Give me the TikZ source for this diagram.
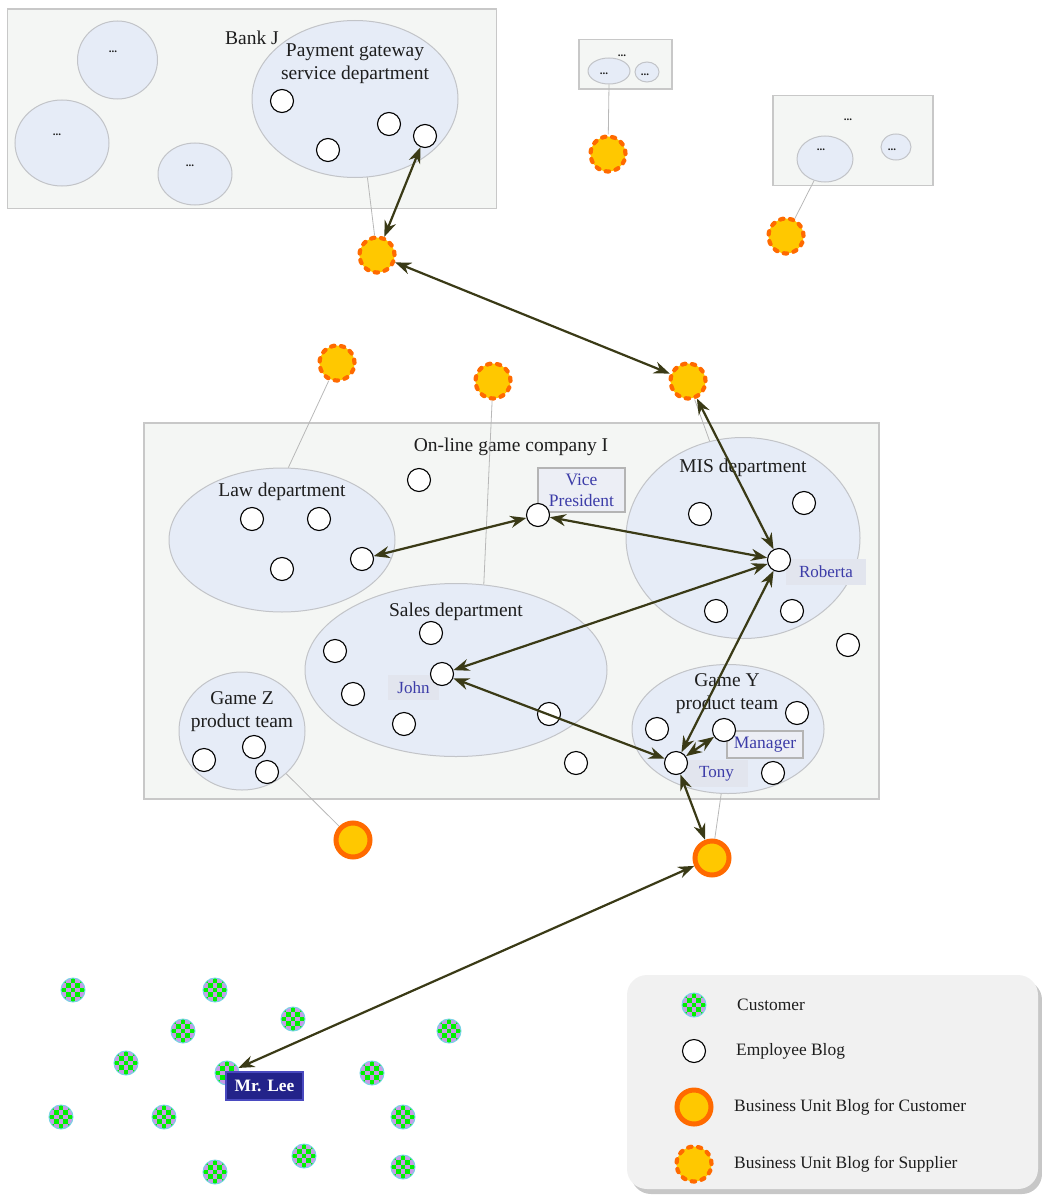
\documentclass[tikz,border=0pt]{standalone}
\usepackage{fontspec}
\setmainfont{Liberation Serif}
\usetikzlibrary{arrows.meta,shapes.geometric,calc}

\definecolor{boxfill}{HTML}{F4F6F4}
\definecolor{boxline}{HTML}{C8C8C8}
\definecolor{deptfill}{HTML}{E6ECF7}
\definecolor{deptline}{HTML}{C2C4C8}
\definecolor{linkgray}{HTML}{B8B8B8}
\definecolor{arrowcol}{HTML}{3A3A16}
\definecolor{bugold}{HTML}{FFC800}
\definecolor{buorange}{HTML}{FF6A00}
\definecolor{namecol}{HTML}{3C3CA8}
\definecolor{tagfill}{HTML}{ECEEF5}
\definecolor{tagline}{HTML}{B4B4B4}
\definecolor{nametagfill}{HTML}{E2E5EE}
\definecolor{chkgreen}{HTML}{00F000}
\definecolor{chklilac}{HTML}{C89BE6}
\definecolor{chkring}{HTML}{78D4E4}
\definecolor{leefill}{HTML}{23238A}
\definecolor{leeline}{HTML}{4A4AC0}
\definecolor{legfill}{HTML}{F1F1F1}
\definecolor{inktext}{HTML}{1E1E1E}

\tikzset{
  org/.style={draw=boxline, line width=1.5pt, fill=boxfill, inner sep=0pt},
  dept/.style={ellipse, draw=deptline, line width=1pt, fill=deptfill, inner sep=0pt},
  emp/.style={circle, draw=black, line width=1.1pt, fill=white, minimum size=23pt, inner sep=0pt},
  custblog/.style={circle, draw=buorange, line width=5pt, fill=bugold, minimum size=34pt, inner sep=0pt},
  supblog/.style={circle, draw=buorange, line width=4.2pt, fill=bugold, minimum size=35pt, inner sep=0pt,
                  dash pattern=on 3.4pt off 6.6pt, line cap=round},
  customer/.style={circle, draw=chkring, line width=1pt, minimum size=24pt, inner sep=0pt, fill=chklilac,
    path picture={
      \foreach \i in {0,...,4}{\foreach \j in {0,...,4}{
        \pgfmathtruncatemacro\chk{mod(\i+\j,2)}
        \ifnum\chk=0
          \fill[chkgreen] ($(path picture bounding box.north west)+(\i*4.8,\j*4.8)$) rectangle ++(4.8,4.8);
        \fi}}
    }},
  title/.style={text=inktext, font=\fontsize{19.5}{23}\selectfont, align=center, inner sep=0pt},
  dots/.style={text=inktext, font=\fontsize{11}{12}\selectfont\bfseries, inner sep=0pt},
  roletag/.style={draw=tagline, line width=1.5pt, fill=tagfill, text=namecol, align=center,
                  font=\fontsize{17.5}{21}\selectfont, inner sep=0pt},
  nametag/.style={fill=nametagfill, text=namecol, font=\fontsize{17}{20}\selectfont, inner sep=0pt},
  thinlink/.style={draw=linkgray, line width=0.8pt},
  talk/.style={draw=arrowcol, line width=2.2pt,
               {Stealth[length=16pt,width=12pt]}-{Stealth[length=16pt,width=12pt]}},
  legtext/.style={text=inktext, font=\fontsize{17.4}{20}\selectfont, anchor=west, inner sep=0pt},
}

\begin{document}
\begin{tikzpicture}[x=1pt,y=-1pt]
\useasboundingbox (0,0) rectangle (1041,1196);

% ---------- organisations ----------
\node[org, minimum width=489pt, minimum height=199.5pt] (bankJ) at (252,108.75) {};
\node[org, minimum width=93pt, minimum height=49.5pt] (orgB) at (625.5,64.25) {};
\node[org, minimum width=160pt, minimum height=90pt] (orgC) at (853,140.5) {};
\node[org, minimum width=735pt, minimum height=376pt] (gameI) at (511.5,611) {};

% ---------- departments ----------
\node[dept, minimum width=80pt, minimum height=78pt] (bankA) at (117.5,60) {};
\node[dept, minimum width=94pt, minimum height=86pt] (bankB) at (62,143) {};
\node[dept, minimum width=74pt, minimum height=62pt] (bankC) at (195,174) {};
\node[dept, minimum width=206pt, minimum height=157pt] (payE) at (355,99) {};
\node[dept, minimum width=42pt, minimum height=26pt] (orgBa) at (609,71) {};
\node[dept, minimum width=24pt, minimum height=20pt] (orgBb) at (647,72) {};
\node[dept, minimum width=56pt, minimum height=46pt] (orgCa) at (825,159) {};
\node[dept, minimum width=30pt, minimum height=26pt] (orgCb) at (896,147) {};

\node[dept, minimum width=226pt, minimum height=144pt] (lawE) at (282,540) {};
\node[dept, minimum width=234pt, minimum height=201pt] (misE) at (743,538) {};
\node[dept, minimum width=302pt, minimum height=173pt] (salesE) at (456,670) {};
\node[dept, minimum width=126pt, minimum height=118pt] (gzE) at (242,731) {};
\node[dept, minimum width=192pt, minimum height=129pt] (gyE) at (728,729) {};

% ---------- titles ----------
\node[title] (tBank) at (252,38) {Bank J};
\node[title] (tPay) at (355,64) {Payment gateway\\service department};
\node[dots] (dA) at (113,52) {...};
\node[dots] (dB) at (57,135) {...};
\node[dots] (dC) at (190,166) {...};
\node[dots] (dBox2) at (622,56) {...};
\node[dots] (dBa) at (604,74) {...};
\node[dots] (dBb) at (645,75) {...};
\node[dots] (dBox3) at (848,120) {...};
\node[dots] (dCa) at (821,150) {...};
\node[dots] (dCb) at (892,150) {...};

\node[title] (tGame) at (511,447) {On-line game company I};
\node[title] (tLaw) at (282,492) {Law department};
\node[title] (tMis) at (743,468) {MIS department};
\node[title] (tSales) at (456,612) {Sales department};
\node[title] (tGz) at (242,711.5) {Game Z\\product team};
\node[title] (tGy) at (727,693.5) {Game Y\\product team};

% ---------- business unit blogs ----------
\node[supblog] (sup1) at (377,255) {};
\node[supblog] (sup2) at (608,154) {};
\node[supblog] (sup3) at (786,236) {};
\node[supblog] (sup4) at (337,363) {};
\node[supblog] (sup5) at (493,381) {};
\node[supblog] (sup6) at (688,381) {};
\node[custblog] (cus1) at (353,840) {};
\node[custblog] (cus2) at (712,858) {};

% ---------- ownership links ----------
\draw[thinlink] (payE.-81) -- (sup1);
\draw[thinlink] (orgBa.south) -- (sup2);
\draw[thinlink] (orgCa) -- (sup3);
\draw[thinlink] (lawE.85) -- (sup4);
\draw[thinlink] (salesE.72) -- (sup5);
\draw[thinlink] (misE.109) -- (sup6);
\draw[thinlink] (gzE.-44) -- (cus1);
\draw[thinlink] (gyE.-96) -- (cus2);

% ---------- role and name tags ----------
\node[roletag, minimum width=87pt, minimum height=44pt] (tagVP) at (581.5,490) {Vice\\President};
\node[roletag, minimum width=76pt, minimum height=27pt] (tagMgr) at (765,744.5) {Manager};
\node[nametag, minimum width=80pt, minimum height=26pt] (tagRob) at (826,572) {Roberta};
\node[nametag, minimum width=51pt, minimum height=25pt] (tagJohn) at (413.5,687.5) {John};
\node[nametag, minimum width=63pt, minimum height=27pt] (tagTony) at (716.5,773.5) {Tony};

% ---------- employee blogs ----------
\node[emp] (p1) at (282,101) {};
\node[emp] (p2) at (389,124) {};
\node[emp] (p3) at (328,150) {};
\node[emp] (p4) at (425,136) {};

\node[emp] (l1) at (252,519) {};
\node[emp] (l2) at (319,519) {};
\node[emp] (l3) at (282,569) {};
\node[emp] (l4) at (362,559) {};
\node[emp] (free1) at (419,480) {};
\node[emp] (vp) at (538,515) {};

\node[emp] (m1) at (700,514) {};
\node[emp] (m2) at (804,503) {};
\node[emp] (m3) at (716,611) {};
\node[emp] (m4) at (792,611) {};
\node[emp] (roberta) at (779,560) {};
\node[emp] (free2) at (848,645) {};

\node[emp] (s1) at (431,633) {};
\node[emp] (s2) at (335,651) {};
\node[emp] (s3) at (353,694) {};
\node[emp] (s4) at (404,724) {};
\node[emp] (s5) at (549,714) {};
\node[emp] (john) at (442,674) {};
\node[emp] (free3) at (576,763) {};

\node[emp] (z1) at (204,760) {};
\node[emp] (z2) at (254,747) {};
\node[emp] (z3) at (267,772) {};

\node[emp] (y1) at (657,729) {};
\node[emp] (manager) at (724,730) {};
\node[emp] (y3) at (797,713) {};
\node[emp] (y4) at (773,773) {};
\node[emp] (tony) at (676,763) {};

% ---------- customers ----------
\node[customer] (k1) at (73,990) {};
\node[customer] (k2) at (215,990) {};
\node[customer] (k3) at (183,1031) {};
\node[customer] (k4) at (293,1019) {};
\node[customer] (k5) at (449,1031) {};
\node[customer] (k6) at (126,1063) {};
\node[customer] (lee) at (227,1073) {};
\node[customer] (k8) at (372,1073) {};
\node[customer] (k9) at (61,1117) {};
\node[customer] (k10) at (164,1117) {};
\node[customer] (k11) at (403,1117) {};
\node[customer] (k12) at (304,1156) {};
\node[customer] (k13) at (215,1172) {};
\node[customer] (k14) at (403,1167) {};

% ---------- communication ----------
\draw[talk] (sup1) -- (p4);
\draw[talk] (sup1) -- (sup6);
\draw[talk] (sup6) -- (roberta);
\draw[talk] (vp) -- (l4);
\draw[talk] (vp) -- (roberta);
\draw[talk] (roberta) -- (john);
\draw[talk] (roberta) -- (tony);
\draw[talk] (john) -- (tony);
\draw[talk] (tony) -- (manager);
\draw[talk] (tony) -- (cus2);
\draw[talk] (cus2) -- (lee);

\node[draw=leeline, line width=1.5pt, fill=leefill, text=white,
      font=\fontsize{17.4}{20}\selectfont\bfseries, minimum width=77pt, minimum height=28pt,
      inner sep=0pt] (leeTag) at (264.5,1086) {Mr. Lee};

% ---------- legend ----------
\fill[black!22, rounded corners=20pt] (631,980) rectangle (1042,1194);
\node[draw=none, fill=legfill, rounded corners=20pt, minimum width=411pt, minimum height=214pt,
      inner sep=0pt] (legend) at (832.5,1082) {};
\node[customer] (legCust) at (694,1005) {};
\node[legtext] (legCustT) at (737,1005) {Customer};
\node[emp] (legEmp) at (694,1051) {};
\node[legtext] (legEmpT) at (736,1051) {Employee Blog};
\node[custblog] (legBuc) at (694,1107) {};
\node[legtext] (legBucT) at (734,1107) {Business Unit Blog for Customer};
\node[supblog] (legBus) at (694,1164) {};
\node[legtext] (legBusT) at (734,1164) {Business Unit Blog for Supplier};
\end{tikzpicture}
\end{document}
